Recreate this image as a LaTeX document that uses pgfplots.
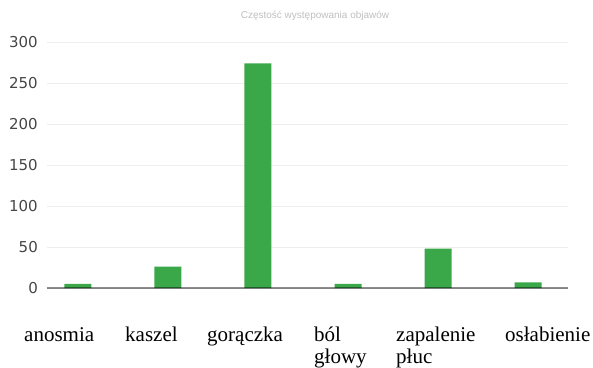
\documentclass[border=0pt]{standalone}
\usepackage{fontspec}
\setmainfont{Liberation Serif}
\newfontfamily\ticksfont{DejaVu Sans}
\newfontfamily\titlefont{Liberation Sans}
\usepackage{pgfplots}
\pgfplotsset{compat=1.18}

\definecolor{barGreen}{RGB}{58,168,72}
\definecolor{tickGray}{RGB}{70,70,70}
\definecolor{gridGray}{RGB}{238,238,238}

\begin{document}
\begin{tikzpicture}[x=1pt,y=1pt]
  % page frame
  \path (0,0) rectangle (593,367);

  \begin{axis}[
    at={(47pt,79pt)}, anchor=south west,
    scale only axis,
    width=521pt, height=246pt,
    xmin=-0.344, xmax=5.444,
    ymin=0, ymax=300,
    axis line style={draw=none},
    xtick=\empty,
    ytick={0,50,100,150,200,250,300},
    tick style={draw=none},
    ymajorgrids,
    grid style={gridGray, line width=0.8pt},
    yticklabel style={font=\ticksfont\fontsize{15}{15}\selectfont, text=tickGray,
      inner sep=0pt, xshift=-9pt},
    /pgf/number format/assume math mode=true,
    clip=false,
  ]
    \addplot[ybar, bar width=27pt, fill=barGreen, draw=none, bar shift=0pt]
      coordinates {(0,5) (1,26) (2,274) (3,5) (4,48) (5,7)};
    % baseline
    \draw[black, opacity=0.45, line width=2.6pt]
      (rel axis cs:0,0) -- (rel axis cs:1,0);
  \end{axis}

  % title
  \node[font=\titlefont\fontsize{10}{10}\selectfont, text=black!25] at (315,351)
    {Częstość występowania objawów};

  % category names
  \begin{scope}[every node/.style={font=\fontsize{21}{23}\selectfont,
      anchor=base west, inner sep=0pt, align=left}]
    \node at (24,26) {anosmia};
    \node at (125,26) {kaszel};
    \node at (207,26) {gorączka};
    \node at (314,26) {ból};
    \node at (314,4) {głowy};
    \node at (396,26) {zapalenie};
    \node at (396,4) {płuc};
    \node at (505,26) {osłabienie};
  \end{scope}
\end{tikzpicture}
\end{document}
